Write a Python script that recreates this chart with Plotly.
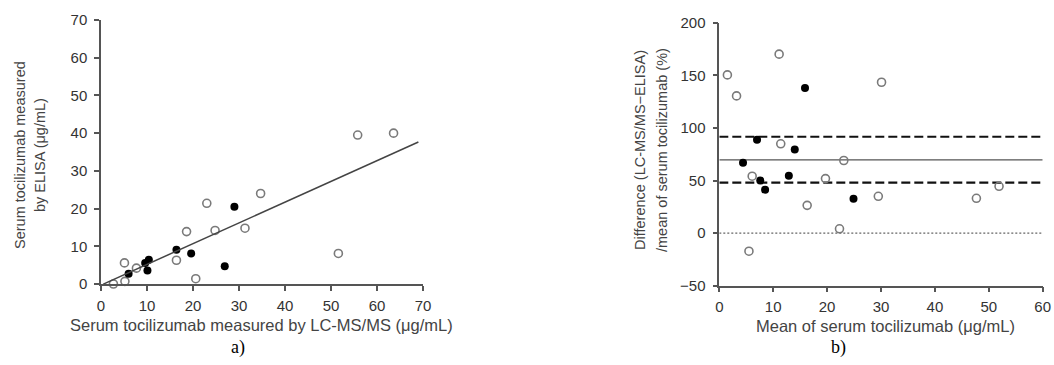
import plotly.graph_objects as go

# ---- Panel a) LC-MS/MS vs ELISA ----
a_open_x = [2.7, 5.2, 5.1, 7.7, 16.4, 18.6, 20.6, 23.0, 24.8, 31.3, 34.7, 51.6, 55.8, 63.6]
a_open_y = [0.0, 0.7, 5.6, 4.2, 6.3, 13.9, 1.4, 21.4, 14.2, 14.8, 24.0, 8.1, 39.5, 40.0]
a_fill_x = [6.0, 9.6, 10.4, 10.1, 16.4, 19.6, 26.9, 29.0]
a_fill_y = [2.7, 5.6, 6.4, 3.6, 9.1, 8.1, 4.7, 20.5]
reg_slope = 0.55
reg_intercept = -0.3
reg_x_range = [0.5, 69.0]
a_ticks = [0, 10, 20, 30, 40, 50, 60, 70]

# ---- Panel b) Bland-Altman ----
b_open_x = [1.5, 3.2, 6.1, 5.5, 11.1, 11.4, 16.3, 19.7, 22.3, 23.1, 29.5, 30.1, 47.7, 51.9]
b_open_y = [150.4, 130.4, 54.1, -17.2, 170.1, 84.9, 26.4, 51.8, 4.1, 69.0, 35.0, 143.4, 33.1, 44.5]
b_fill_x = [4.4, 7.0, 7.6, 8.5, 12.9, 14.0, 15.9, 24.9]
b_fill_y = [66.8, 88.7, 49.9, 41.3, 54.4, 79.5, 138.0, 32.7]
bias_mean = 69.6
loa_upper = 91.6
loa_lower = 48.0
zero_line = 0
b_x_ticks = [0, 10, 20, 30, 40, 50, 60]
b_y_ticks = [-50, 0, 50, 100, 150, 200]

fig = go.Figure()

open_marker = dict(symbol="circle-open", size=8, color="#7a7a7a", line=dict(width=1.6, color="#7a7a7a"))
fill_marker = dict(symbol="circle", size=8, color="#000000")

# panel a
fig.add_trace(go.Scatter(x=a_open_x, y=a_open_y, mode="markers", marker=open_marker,
                         xaxis="x", yaxis="y", cliponaxis=False, showlegend=False))
fig.add_trace(go.Scatter(x=a_fill_x, y=a_fill_y, mode="markers", marker=fill_marker,
                         xaxis="x", yaxis="y", cliponaxis=False, showlegend=False))
reg_y = [reg_slope * v + reg_intercept for v in reg_x_range]
fig.add_trace(go.Scatter(x=reg_x_range, y=reg_y, mode="lines", line=dict(color="#444444", width=1.5),
                         xaxis="x", yaxis="y", cliponaxis=False, showlegend=False))

# panel b reference lines
b_xr = [0, 60]
for val, dash, col, w in [(loa_upper, "9px,4px", "#111111", 2.2), (bias_mean, "solid", "#555555", 1.4),
                          (loa_lower, "9px,4px", "#111111", 2.2), (zero_line, "2px,2px", "#666666", 1.2)]:
    fig.add_trace(go.Scatter(x=b_xr, y=[val, val], mode="lines", line=dict(color=col, width=w, dash=dash),
                             xaxis="x2", yaxis="y2", showlegend=False))
fig.add_trace(go.Scatter(x=b_open_x, y=b_open_y, mode="markers", marker=open_marker,
                         xaxis="x2", yaxis="y2", cliponaxis=False, showlegend=False))
fig.add_trace(go.Scatter(x=b_fill_x, y=b_fill_y, mode="markers", marker=fill_marker,
                         xaxis="x2", yaxis="y2", cliponaxis=False, showlegend=False))

W, H = 1054, 365
def px_x(p): return p / W
def px_y(p): return (H - p) / H

axis_common = dict(showline=True, linecolor="#555555", linewidth=1.5, ticks="outside", ticklen=5,
                   tickcolor="#555555", tickwidth=1.5, showgrid=False, zeroline=False, automargin=False,
                   tickfont=dict(family="Liberation Sans, Arial", size=15, color="#333333"))

fig.update_layout(
    width=W, height=H, margin=dict(l=0, r=0, t=0, b=0, autoexpand=False),
    paper_bgcolor="white", plot_bgcolor="white",
    xaxis=dict(domain=[px_x(101), px_x(423)], range=[0, 70], tickvals=a_ticks, anchor="y", **axis_common),
    yaxis=dict(domain=[px_y(284), px_y(20)], range=[0, 70], tickvals=a_ticks, anchor="x", **axis_common),
    xaxis2=dict(domain=[px_x(719.3), px_x(1042.7)], range=[0, 60], tickvals=b_x_ticks, anchor="y2", **axis_common),
    yaxis2=dict(domain=[px_y(285.7), px_y(22.7)], range=[-50, 200], tickvals=b_y_ticks, anchor="x2",
                tickformat="d", **axis_common),
)
fig.update_yaxes(ticklabelstandoff=4)
fig.update_xaxes(ticklabelstandoff=2)

h_font = dict(family="Liberation Sans, Arial", size=16.5, color="#444444")
v_font = dict(family="Liberation Sans, Arial", size=14.5, color="#444444")
ann = [
    dict(text="Serum tocilizumab measured by LC-MS/MS (μg/mL)", x=px_x(261), y=px_y(325), font=h_font),
    dict(text="Mean of serum tocilizumab (μg/mL)", x=px_x(885), y=px_y(326), font=h_font),
    dict(text="Serum tocilizumab measured", x=px_x(20), y=px_y(155), textangle=-90, font=v_font),
    dict(text="by ELISA (μg/mL)", x=px_x(40), y=px_y(155), textangle=-90, font=v_font),
    dict(text="Difference (LC-MS/MS\u2212ELISA)", x=px_x(640), y=px_y(150), textangle=-90, font=v_font),
    dict(text="/mean of serum tocilizumab (%)", x=px_x(662), y=px_y(150), textangle=-90, font=v_font),
]
for a in ann:
    fig.add_annotation(xref="paper", yref="paper", showarrow=False,
                       xanchor="center", yanchor="middle", **a)
for t, x in [("a)", 238), ("b)", 838)]:
    fig.add_annotation(text=t, xref="paper", yref="paper", x=px_x(x), y=px_y(347), showarrow=False,
                       font=dict(family="Liberation Serif, Times New Roman", size=18, color="#000000"),
                       xanchor="center", yanchor="middle")

fig.write_html("out.html", config={"displayModeBar": False},
               post_script="document.body.style.margin='0';document.body.style.overflow='hidden';")
